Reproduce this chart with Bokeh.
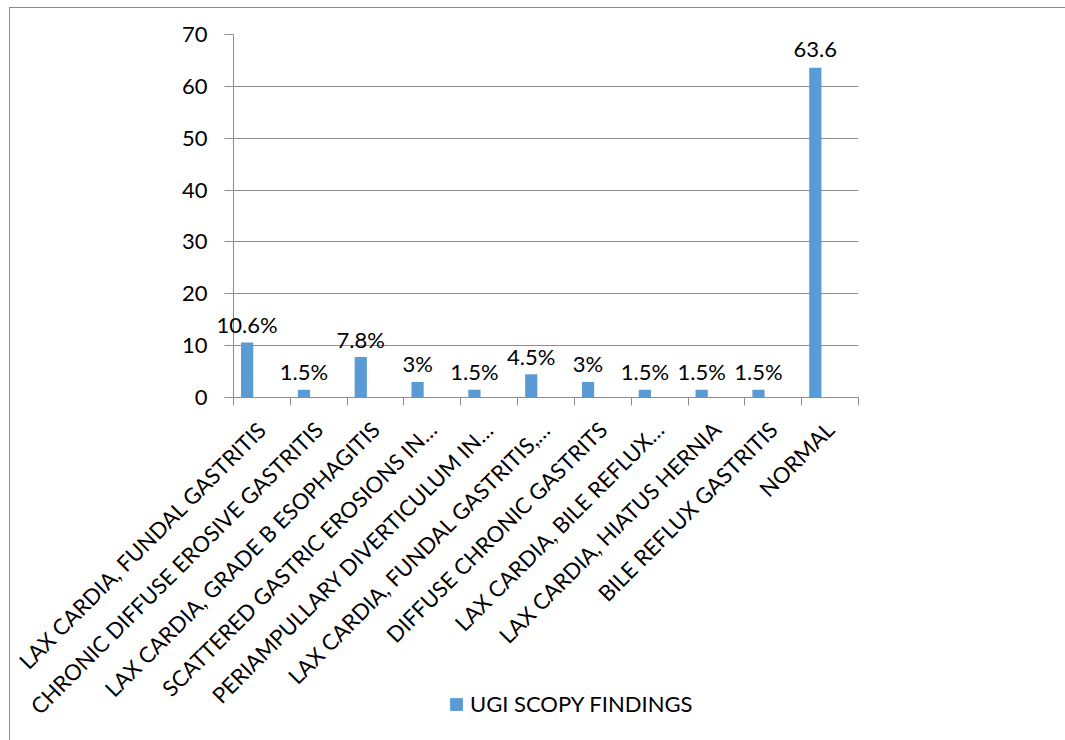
from math import pi

from bokeh.embed import file_html
from bokeh.layouts import column
from bokeh.models import (ColumnDataSource, FixedTicker, Label, Legend,
                          LegendItem, Range1d)
from bokeh.plotting import figure
from bokeh.resources import INLINE
from bokeh.transform import dodge

# Upper GI endoscopy findings (percent of patients)
categories = [
    "LAX CARDIA, FUNDAL GASTRITIS",
    "CHRONIC DIFFUSE EROSIVE GASTRITIS",
    "LAX CARDIA, GRADE B ESOPHAGITIS",
    "SCATTERED GASTRIC EROSIONS IN\u2026",
    "PERIAMPULLARY DIVERTICULUM IN\u2026",
    "LAX CARDIA, FUNDAL GASTRITIS,\u2026",
    "DIFFUSE CHRONIC GASTRITS",
    "LAX CARDIA, BILE REFLUX\u2026",
    "LAX CARDIA, HIATUS HERNIA",
    "BILE REFLUX GASTRITIS",
    "NORMAL",
]
values = [10.6, 1.5, 7.8, 3, 1.5, 4.5, 3, 1.5, 1.5, 1.5, 63.6]
value_labels = ["10.6%", "1.5%", "7.8%", "3%", "1.5%", "4.5%", "3%",
                "1.5%", "1.5%", "1.5%", "63.6"]
y_ticks = [0, 10, 20, 30, 40, 50, 60, 70]
series_name = "UGI SCOPY FINDINGS"

FONT = "Lato"
GRID = "#8c8c8c"
BAR = "#5b9bd5"
SHIFT = -0.26   # bar offset inside each category slot

n = len(categories)
centers = [i + 0.5 for i in range(n)]
source = ColumnDataSource(dict(x=centers, value=values, label=value_labels))

p = figure(
    frame_width=624, frame_height=362,
    x_range=Range1d(0, n), y_range=Range1d(0, 70),
    output_backend="svg", toolbar_location=None,
    min_border_left=223, min_border_right=208,
    min_border_top=26, min_border_bottom=344,
)
p.styles = {"margin-left": "9px", "margin-top": "7px",
            "border-left": "1px solid #8c8c8c", "border-top": "1px solid #8c8c8c"}
p.outline_line_color = None
p.background_fill_color = "white"
p.border_fill_color = "white"

bars = p.vbar(x=dodge("x", SHIFT, range=p.x_range), top="value", width=0.215,
              bottom=0, source=source, fill_color=BAR, line_color=None)

# value labels above the bars; the first one overhangs the y axis, so it
# lives in the left panel where it is not clipped to the frame
for i, (xc, v, txt) in enumerate(zip(centers, values, value_labels)):
    lbl = Label(x=xc + SHIFT, y=v, text=txt, text_align="center",
                text_baseline="alphabetic", y_offset=18,
                text_font=FONT, text_font_size="22px", text_color="black")
    p.add_layout(lbl, "left" if i == 0 else "center")

# y axis and horizontal gridlines
p.yaxis.ticker = FixedTicker(ticks=y_ticks)
p.yaxis.axis_line_color = GRID
p.yaxis.major_tick_line_color = GRID
p.yaxis.major_tick_out = 9
p.yaxis.major_tick_in = 0
p.yaxis.minor_tick_line_color = None
p.yaxis.major_label_standoff = 17
p.yaxis.major_label_text_font = FONT
p.yaxis.major_label_text_font_size = "22px"
p.yaxis.major_label_text_color = "black"
p.ygrid.ticker = FixedTicker(ticks=y_ticks)
p.ygrid.grid_line_color = GRID
p.xgrid.grid_line_color = None

# x axis: labels at category centres, ticks at category boundaries
p.xaxis.ticker = FixedTicker(ticks=centers, minor_ticks=list(range(n + 1)))
p.xaxis.major_label_overrides = {c: name for c, name in zip(centers, categories)}
p.xaxis.major_tick_line_color = None
p.xaxis.minor_tick_line_color = GRID
p.xaxis.minor_tick_out = 8
p.xaxis.minor_tick_in = 0
p.xaxis.axis_line_color = GRID
p.xaxis.major_label_orientation = pi / 4
p.xaxis.major_label_standoff = 20
p.xaxis.major_label_text_font = FONT
p.xaxis.major_label_text_font_size = "22px"
p.xaxis.major_label_text_color = "black"

# series legend strip, pulled up over the space below the category labels;
# its figure shows the same series, scrolled out of view, and its frame is
# aligned with the main frame by the column layout
key = figure(width=1057, height=30, x_range=Range1d(100, 101), y_range=Range1d(-2, -1),
             x_axis_type=None, y_axis_type=None, min_border=0,
             output_backend="svg", toolbar_location=None)
key.outline_line_color = None
key.background_fill_alpha = 0
key.border_fill_alpha = 0
key.grid.visible = False
key_bar = key.vbar(x="x", top="value", width=0.215, bottom=0, source=source,
                   fill_color=BAR, line_color=None)
key.add_layout(Legend(items=[LegendItem(label=series_name, renderers=[key_bar])],
                      location=(225, 0), orientation="horizontal",
                      border_line_color=None, background_fill_alpha=0,
                      padding=0, margin=0, glyph_width=16, glyph_height=16,
                      label_standoff=6, label_text_font=FONT,
                      label_text_font_size="22px", label_text_color="black"))
key.styles = {"margin-top": "-53px"}

page = column(p, key)
open("out.html", "w").write(file_html(page, INLINE))
